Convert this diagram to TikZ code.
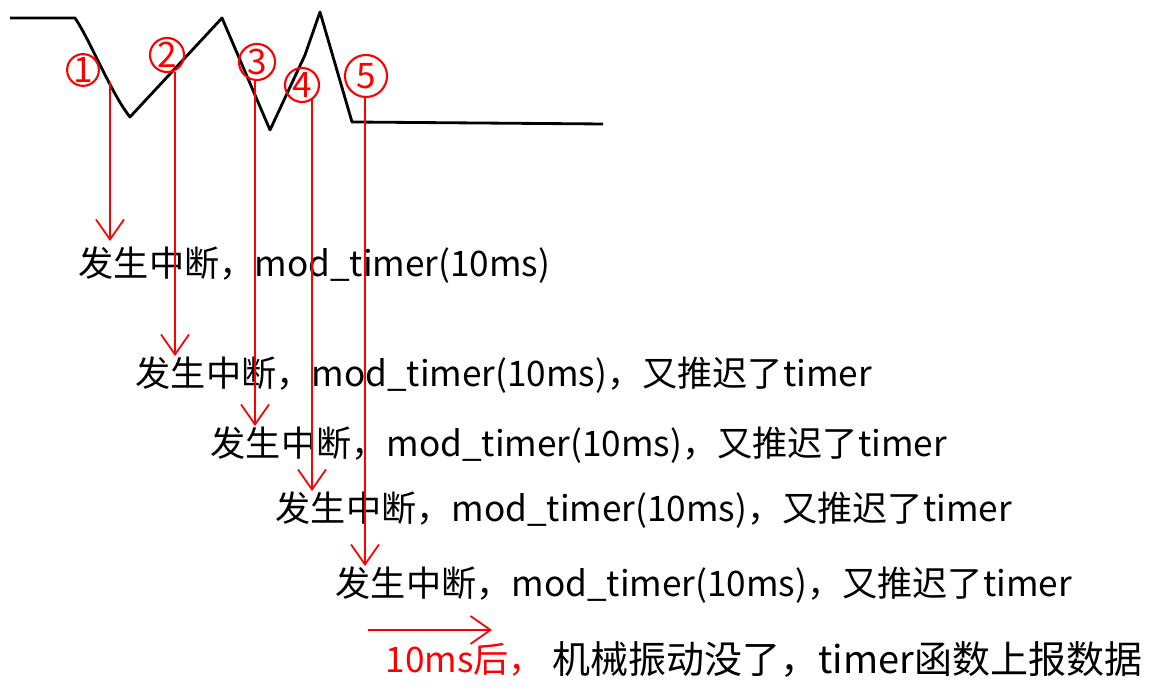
\documentclass[tikz,border=0pt]{standalone}
\usepackage{fontspec}
\setmainfont{Noto Sans CJK SC}
\usepackage{tikz}
\usetikzlibrary{
  positioning,
  arrows.meta
}

\begin{document}
\begin{tikzpicture}[x=0.01cm,y=-0.01cm,>={Straight Barb[length=2mm,width=2.8mm]},
  wave/.style={line width=0.8pt,line join=round},
  numcirc/.style={circle,draw=red,text=red,line width=0.6pt,inner sep=0pt,minimum size=0.34cm,font=\fontsize{10}{11}\selectfont},
  trig/.style={red,line width=0.5pt,->},
  msg/.style={anchor=west,inner sep=0pt,font=\fontsize{10}{12}\selectfont}]
            \useasboundingbox (0,0) rectangle (1174,695);
            % the bouncing key signal
            \draw[wave] (10,18) -- (75,18) .. controls (90,40) and (112,95) .. (130,117)
              -- (222,18) -- (270,130) -- (305,55) -- (320,12) -- (352,122) -- (603,124);
            \node[numcirc,minimum size=0.28cm] (n1) at (83,70) {1};
            \node[numcirc] (n2) at (167,55) {2};
            \node[numcirc,minimum size=0.36cm] (n3) at (257,62) {3};
            \node[numcirc] (n4) at (302,85) {4};
            \node[numcirc,minimum size=0.42cm] (n5) at (366,76) {5};
            \coordinate (s1) at (110,82);
            \coordinate (s2) at (175,72);
            \coordinate (s3) at (255,80);
            \coordinate (s4) at (312,98);
            \coordinate (s5) at (365,97);
            % what each interrupt does
            \node[msg] (t1) at (78,265) {发生中断，mod\_timer(10ms)};
            \node[msg] (t2) at (135,375) {发生中断，mod\_timer(10ms)，又推迟了timer};
            \node[msg] (t3) at (210,445) {发生中断，mod\_timer(10ms)，又推迟了timer};
            \node[msg] (t4) at (275,510) {发生中断，mod\_timer(10ms)，又推迟了timer};
            \node[msg] (t5) at (335,585) {发生中断，mod\_timer(10ms)，又推迟了timer};
            \draw[trig] (s1) -- ([yshift=0.05cm]s1 |- t1.north);
            \draw[trig] (s2) -- (s2 |- t2.north);
            \draw[trig] (s3) -- (s3 |- t3.north);
            \draw[trig] (s4) -- (s4 |- t4.north);
            \draw[trig] (s5) -- (s5 |- t5.north);
            % 10ms later
            \coordinate (d0) at (368,630);
            \coordinate (d1) at (492,630);
            \draw[trig] (d0) -- (d1);
            \node[msg,text=red] (late) at (385,660) {10ms后，};
            \node[msg,right=2pt of late,font=\fontsize{10.8}{12}\selectfont] (done) {机械振动没了，timer函数上报数据};
        \end{tikzpicture}
\end{document}
